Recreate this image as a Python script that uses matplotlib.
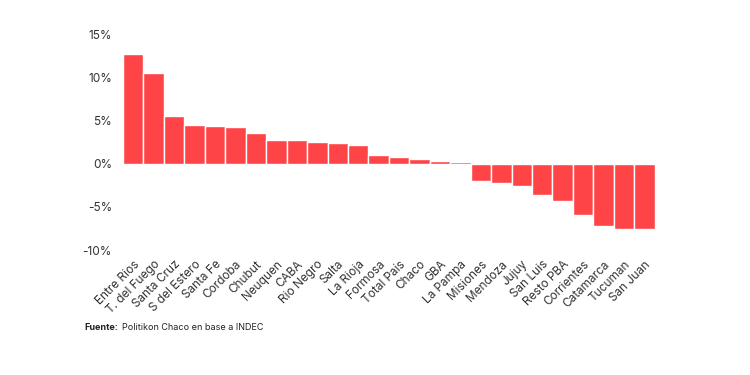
import matplotlib.pyplot as plt
from matplotlib.ticker import FuncFormatter

plt.rcParams['font.family'] = ['Inter', 'DejaVu Sans']

provincias = ["Entre Rios", "T. del Fuego", "Santa Cruz", "S del Estero", "Santa Fe",
              "Cordoba", "Chubut", "Neuquen", "CABA", "Rio Negro", "Salta", "La Rioja",
              "Formosa", "Total País", "Chaco", "GBA", "La Pampa", "Misiones", "Mendoza",
              "Jujuy", "San Luis", "Resto PBA", "Corrientes", "Catamarca", "Tucuman", "San Juan"]
variacion = [12.7, 10.5, 5.5, 4.5, 4.4, 4.2, 3.5, 2.8, 2.7, 2.5, 2.45, 2.2,
             1.0, 0.8, 0.5, 0.3, 0.15, -2.0, -2.2, -2.6, -3.6, -4.3, -5.9, -7.2, -7.5, -7.6]
yticks = [-10, -5, 0, 5, 10, 15]

fig = plt.figure(figsize=(7.5, 3.75), dpi=100)
ax = fig.add_axes([0.164, 0.333, 0.709, 0.576])

x = range(len(provincias))
ax.bar(x, variacion, width=1.0, color="#FF4447", edgecolor="white", linewidth=1)

ax.set_xlim(-0.5, len(provincias) - 0.5)
ax.set_ylim(-10, 15)
ax.set_yticks(yticks)
ax.yaxis.set_major_formatter(FuncFormatter(lambda v, p: f"{v:.0f}%"))
ax.set_xticks(list(x))
ax.set_xticklabels(provincias, rotation=45, ha="right", rotation_mode="anchor")
ax.tick_params(axis="both", length=0, labelsize=8.5, colors="#333333")
ax.tick_params(axis="y", pad=8)
ax.tick_params(axis="x", pad=6)
for s in ax.spines.values():
    s.set_visible(False)

t1 = fig.text(0.113, 0.12, "Fuente:", fontsize=6.5, fontweight="bold", color="#222222")
fig.canvas.draw()
bb = t1.get_window_extent().transformed(fig.transFigure.inverted())
fig.text(bb.x1 + 0.004, 0.12, "Politikon Chaco en base a INDEC", fontsize=6.5, color="#222222")

fig.savefig("out.png", dpi=100)
